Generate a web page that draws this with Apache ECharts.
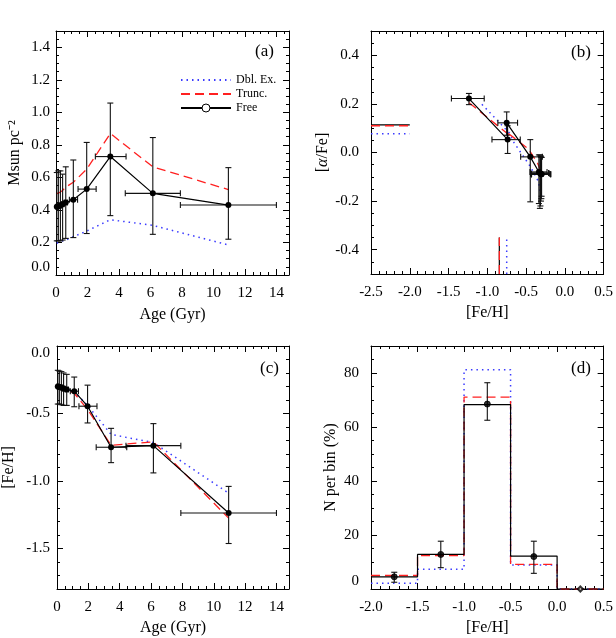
<!DOCTYPE html>
<html><head><meta charset="utf-8">
<script src="https://cdn.jsdelivr.net/npm/echarts@6/dist/echarts.min.js"></script>
<style>html,body{margin:0;padding:0;background:#fff}#c{width:616px;height:638px}</style>
</head><body><div id="c"></div>
<script>
// ---- Age bins (panels a, c) ----
const ages  = [0.05, 0.15, 0.28, 0.42, 0.62, 1.1, 1.95, 3.45, 6.15, 10.95];
const ageLo = [0.0, 0.1, 0.22, 0.35, 0.52, 0.85, 1.4, 2.5, 4.4, 7.9];
const ageHi = [0.1, 0.2, 0.34, 0.5, 0.72, 1.37, 2.55, 4.45, 7.9, 14.0];
// ---- Panel (a): surface mass density ----
const massFree = [0.420, 0.422, 0.428, 0.435, 0.445, 0.463, 0.528, 0.728, 0.502, 0.430];
const massLo   = [0.21, 0.21, 0.21, 0.215, 0.225, 0.23, 0.255, 0.365, 0.25, 0.22];
const massHi   = [0.63, 0.64, 0.64, 0.62, 0.665, 0.707, 0.815, 1.057, 0.845, 0.66];
const massTrunc = [0.50, 0.505, 0.51, 0.52, 0.54, 0.57, 0.65, 0.87, 0.665, 0.525];
const massDbl   = [0.195, 0.20, 0.205, 0.21, 0.215, 0.235, 0.27, 0.34, 0.305, 0.185];
// ---- Panels (b), (c): metallicity and alpha ----
const fehFree = [-0.300, -0.303, -0.308, -0.315, -0.322, -0.335, -0.446, -0.750, -0.738, -1.237];
const fehLo   = [-0.43, -0.43, -0.435, -0.44, -0.44, -0.45, -0.57, -0.864, -0.94, -1.463];
const fehHi   = [-0.18, -0.185, -0.19, -0.20, -0.21, -0.23, -0.29, -0.61, -0.575, -1.04];
const fehTrunc = [-0.30, -0.30, -0.31, -0.315, -0.325, -0.35, -0.47, -0.735, -0.71, -1.275];
const fehDbl   = [-0.30, -0.30, -0.305, -0.31, -0.32, -0.34, -0.44, -0.655, -0.715, -1.09];
const alphaFree = [-0.090, -0.090, -0.088, -0.086, -0.084, -0.080, -0.018, 0.122, 0.053, 0.222];
const alphaLo   = [-0.18, -0.19, -0.20, -0.22, -0.23, -0.21, -0.203, 0.071, -0.004, 0.197];
const alphaHi   = [-0.02, -0.02, -0.015, -0.015, -0.01, -0.01, 0.053, 0.167, 0.11, 0.243];
const alphaTrunc = [-0.075, -0.075, -0.072, -0.07, -0.065, -0.045, 0.015, 0.08, 0.07, 0.215];
const alphaDbl   = [-0.18, -0.18, -0.175, -0.17, -0.16, -0.12, -0.06, 0.04, 0.08, 0.205];
// mean markers in (b): [Dbl. Ex., Trunc., Free]
const markAlpha = [0.077, 0.110, 0.114];
const markFeh   = [-0.75, -0.845, -0.845];
const markSpanFeh = [-2.5, -2.0];
const markSpanAlpha = [-0.5, -0.35];
// ---- Panel (d): MDF histogram ----
const binEdges = [-2.0, -1.5, -1.0, -0.5, 0.0, 0.5];
const histFree  = [4.5, 12.8, 68.3, 12.2, 0];
const histTrunc = [5.0, 12.4, 71.1, 9.1, 0];
const histDbl   = [2.1, 7.3, 81.2, 8.9, 0];
const binCenters = [-1.75, -1.25, -0.75, -0.25, 0.25];
const nFree = [4.5, 12.8, 68.5, 12.0, 0];
const nLo   = [2.5, 7.9, 62.5, 5.8, 0];
const nHi   = [6.2, 17.7, 76.4, 17.7, 0];

const FONT = 'Liberation Serif';
const BLUE = '#3b3bff', RED = '#ff2020';
const chart = echarts.init(document.getElementById('c'));

function zip2(a, b) { return a.map((v, i) => [v, b[i]]); }
function stepData(edges, vals) {
  const d = vals.map((v, i) => [edges[i], v]);
  d.push([edges[edges.length - 1], vals[vals.length - 1]]);
  return d;
}
function errRender(params, api) {
  const x = api.value(0), y = api.value(1);
  const xl = api.value(2), xh = api.value(3), yl = api.value(4), yh = api.value(5);
  const c = 3;
  const p = api.coord([x, y]);
  const pyl = api.coord([x, yl]), pyh = api.coord([x, yh]);
  const pxl = api.coord([xl, y]), pxh = api.coord([xh, y]);
  const st = { stroke: '#111', lineWidth: 1.1 };
  const ch = [];
  if (yh !== yl) {
    ch.push({ type: 'line', shape: { x1: p[0], y1: pyl[1], x2: p[0], y2: pyh[1] }, style: st });
    ch.push({ type: 'line', shape: { x1: p[0] - c, y1: pyl[1], x2: p[0] + c, y2: pyl[1] }, style: st });
    ch.push({ type: 'line', shape: { x1: p[0] - c, y1: pyh[1], x2: p[0] + c, y2: pyh[1] }, style: st });
  }
  if (xh !== xl) {
    ch.push({ type: 'line', shape: { x1: pxl[0], y1: p[1], x2: pxh[0], y2: p[1] }, style: st });
    ch.push({ type: 'line', shape: { x1: pxl[0], y1: p[1] - c, x2: pxl[0], y2: p[1] + c }, style: st });
    ch.push({ type: 'line', shape: { x1: pxh[0], y1: p[1] - c, x2: pxh[0], y2: p[1] + c }, style: st });
  }
  return { type: 'group', children: ch };
}

const grids = [
  { left: 56, top: 31, width: 233, height: 244 },
  { left: 371, top: 31, width: 234, height: 243 },
  { left: 56, top: 346, width: 233, height: 243 },
  { left: 371, top: 346, width: 234, height: 243 }
];

function mkAxis(gi, pos, o) {
  const shown = (pos === 'bottom' || pos === 'left');
  const ax = {
    type: 'value', gridIndex: gi, position: pos,
    min: o.min, max: o.max,
    axisLine: { show: true, onZero: false, lineStyle: { color: '#000', width: 1 } },
    axisTick: { show: true, inside: true, length: 6, lineStyle: { color: '#000', width: 1 } },
    minorTick: { show: true, splitNumber: o.minor, length: 3, lineStyle: { color: '#000', width: 1 } },
    splitLine: { show: false },
    axisLabel: {
      show: shown, color: '#000', fontFamily: FONT, fontSize: 15, margin: o.margin || 8,
      showMinLabel: o.hideMin ? false : null, showMaxLabel: o.hideMax ? false : null,
      formatter: o.fmt
    }
  };
  if (o.interval != null) ax.interval = o.interval;
  if (o.split != null) ax.splitNumber = o.split;
  if (o.vmin) ax.axisLabel.verticalAlignMinLabel = o.vmin;
  if (o.vmax) ax.axisLabel.verticalAlignMaxLabel = o.vmax;
  if (shown && o.name) {
    ax.name = o.name; ax.nameLocation = 'middle'; ax.nameGap = o.nameGap;
    ax.nameTextStyle = { color: '#000', fontFamily: FONT, fontSize: 16, rich: o.rich };
    if (pos === 'left') ax.nameRotate = 90;
  }
  return ax;
}
const f1 = v => v.toFixed(1);
const f0 = v => v.toFixed(0);
const xCfg = [
  { min: 0, max: 14.8, interval: 2, minor: 4, hideMax: true, fmt: f0, margin: 11, name: 'Age (Gyr)', nameGap: 32 },
  { min: -2.5, max: 0.5, interval: 0.5, minor: 5, fmt: f1, margin: 11, name: '[Fe/H]', nameGap: 31 },
  { min: 0, max: 14.8, interval: 2, minor: 4, hideMax: true, fmt: f0, margin: 11, name: 'Age (Gyr)', nameGap: 31 },
  { min: -2.0, max: 0.5, interval: 0.5, minor: 5, fmt: f1, margin: 11, name: '[Fe/H]', nameGap: 31 }
];
const yCfg = [
  { min: 0, max: 1.5, interval: 0.2, minor: 4, hideMax: true, fmt: f1, margin: 6, vmin: 'bottom', name: 'Msun pc⁻²', nameGap: 33 },
  { min: -0.5, max: 0.5, split: 5, minor: 4, hideMin: true, hideMax: true, fmt: f1, margin: 12, name: '[{a|α}/Fe]', nameGap: 40,
    rich: { a: { fontFamily: FONT, fontSize: 16, fontStyle: 'italic', color: '#000' } } },
  { min: -1.8, max: 0.0, split: 4, minor: 5, hideMin: true, fmt: f1, margin: 7, vmax: 'top', name: '[Fe/H]', nameGap: 40 },
  { min: 0, max: 90, interval: 20, minor: 4, hideMax: true, fmt: f0, margin: 12, vmin: 'bottom', name: 'N per bin (%)', nameGap: 32 }
];
const xAxis = [], yAxis = [];
for (let g = 0; g < 4; g++) {
  xAxis.push(mkAxis(g, 'bottom', xCfg[g]));
  xAxis.push(mkAxis(g, 'top', xCfg[g]));
  yAxis.push(mkAxis(g, 'left', yCfg[g]));
  yAxis.push(mkAxis(g, 'right', yCfg[g]));
}
const AX = g => ({ xAxisIndex: 2 * g, yAxisIndex: 2 * g });

function lineS(name, g, data, style, extra) {
  return Object.assign({
    name, type: 'line', ...AX(g), data, symbol: 'none', animation: false,
    lineStyle: style, itemStyle: { color: style.color }, z: 3
  }, extra || {});
}
const dblStyle = { color: BLUE, type: [1.5, 4], width: 1.5 };
const trStyle = { color: RED, type: [9, 5], width: 1.3 };
const frStyle = { color: '#000', type: 'solid', width: 1.2 };
function freeS(g, data) {
  return { name: 'Free', type: 'line', ...AX(g), data, symbol: 'circle', symbolSize: 6, animation: false,
    lineStyle: frStyle, itemStyle: { color: '#000' }, z: 5 };
}
function errS(g, rows) {
  return { name: 'err', type: 'custom', ...AX(g), data: rows, renderItem: errRender,
    encode: { x: 0, y: 1 }, animation: false, z: 4, silent: true };
}

const series = [];
// (a)
series.push(lineS('Dbl. Ex.', 0, zip2(ages, massDbl), dblStyle));
series.push(lineS('Trunc.', 0, zip2(ages, massTrunc), trStyle));
series.push(freeS(0, zip2(ages, massFree)));
series.push(errS(0, ages.map((a, i) => [a, massFree[i], ageLo[i], ageHi[i], massLo[i], massHi[i]])));
// (b)
series.push(lineS('Dbl. Ex.', 1, zip2(fehDbl, alphaDbl), dblStyle));
series.push(lineS('Trunc.', 1, zip2(fehTrunc, alphaTrunc), trStyle));
series.push(freeS(1, zip2(fehFree, alphaFree)));
series.push(errS(1, fehFree.map((f, i) => [f, alphaFree[i], fehLo[i], fehHi[i], alphaLo[i], alphaHi[i]])));
const mStyles = [dblStyle, trStyle, frStyle], mNames = ['Dbl. Ex.', 'Trunc.', 'Free'];
[2, 1, 0].forEach(k => {
  series.push(lineS(mNames[k], 1, markSpanFeh.map(f => [f, markAlpha[k]]), mStyles[k], { z: k === 2 ? 2 : 3 }));
  series.push(lineS(mNames[k], 1, markSpanAlpha.map(a => [markFeh[k], a]), mStyles[k], { z: k === 2 ? 2 : 3 }));
});
// (c)
series.push(lineS('Dbl. Ex.', 2, zip2(ages, fehDbl), dblStyle));
series.push(lineS('Trunc.', 2, zip2(ages, fehTrunc), trStyle));
series.push(freeS(2, zip2(ages, fehFree)));
series.push(errS(2, ages.map((a, i) => [a, fehFree[i], ageLo[i], ageHi[i], fehLo[i], fehHi[i]])));
// (d)
series.push(lineS('Dbl. Ex.', 3, stepData(binEdges, histDbl), dblStyle, { step: 'end' }));
series.push(lineS('Trunc.', 3, stepData(binEdges, histTrunc), trStyle, { step: 'end' }));
series.push(lineS('Free', 3, stepData(binEdges, histFree), frStyle, { step: 'end', z: 4 }));
series.push(errS(3, binCenters.map((c, i) => [c, nFree[i], c, c, nLo[i], nHi[i]])));
series.push({ name: 'Free', type: 'scatter', ...AX(3), animation: false, z: 6,
  data: binCenters.map((c, i) => nFree[i] > 0 ? [c, nFree[i]] : { value: [c, nFree[i]], symbol: 'emptyDiamond', symbolSize: 5 }),
  symbol: 'circle', symbolSize: 6, itemStyle: { color: '#000', borderColor: '#000' } });

const panelLabel = (t, x, y) => ({ type: 'text', left: x, top: y,
  style: { text: t, fontFamily: FONT, fontSize: 17, fill: '#000' } });

chart.setOption({
  animation: false,
  textStyle: { fontFamily: FONT },
  grid: grids,
  xAxis, yAxis, series,
  legend: {
    orient: 'vertical', left: 180, top: 74, padding: 0, itemWidth: 50, itemHeight: 10, itemGap: 2,
    selectedMode: false,
    textStyle: { fontFamily: FONT, fontSize: 12, lineHeight: 12, color: '#000' },
    data: [
      { name: 'Dbl. Ex.', itemStyle: { opacity: 0 } },
      { name: 'Trunc.', itemStyle: { opacity: 0 } },
      { name: 'Free', itemStyle: { color: '#fff', borderColor: '#000', borderWidth: 1 } }
    ]
  },
  graphic: [
    panelLabel('(a)', 255, 43),
    panelLabel('(b)', 571, 44),
    panelLabel('(c)', 260, 360),
    panelLabel('(d)', 571, 360)
  ]
});
</script>
</body></html>
